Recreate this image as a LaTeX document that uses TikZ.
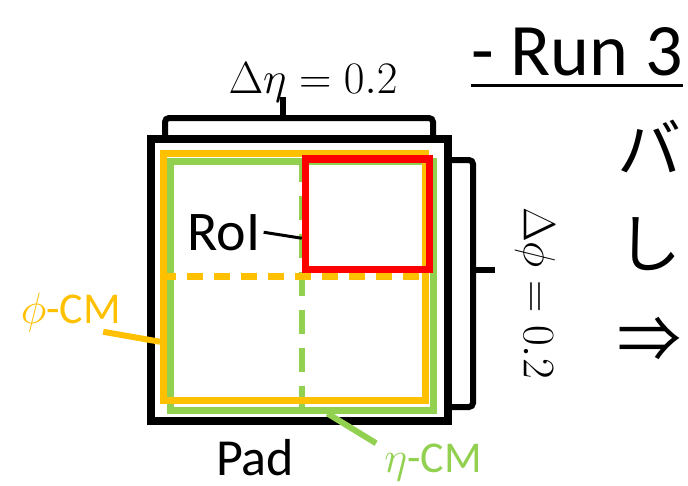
\RequirePackage{fix-cm}
\documentclass[tikz,border=0pt]{standalone}
\usepackage[no-math]{fontspec}
\setmainfont{Carlito}
\newfontfamily\jpfont{Noto Sans CJK JP}
\usetikzlibrary{calc}
\definecolor{Ink}{HTML}{000000}
\definecolor{PhiOrange}{HTML}{FFC000}
\definecolor{EtaGreen}{HTML}{92D050}
\definecolor{RoIRed}{HTML}{FF0000}

\begin{document}
\begin{tikzpicture}[x=1pt,y=-1pt,
  box/.style={draw,inner sep=0pt,line width=7pt},
  brace/.style={draw=Ink,line width=6pt,rounded corners=4pt},
  lbl/.style={inner sep=0pt,anchor=base},
  jp/.style={inner sep=0pt,anchor=west,font=\jpfont\fontsize{64}{70}\selectfont}]
\useasboundingbox (0,0) rectangle (688,485);
\clip (0,0) rectangle (688,485);
\node[box,draw=Ink,line width=8pt,minimum width=297pt,minimum height=282pt] (pad) at (299.5,280) {};
\node[box,draw=EtaGreen,minimum width=263pt,minimum height=249pt] (etabox) at (301.5,285.5) {};
\draw[EtaGreen,line width=6pt,dash pattern=on 24pt off 14pt] (etabox.north) -- (etabox.south);
\node[box,draw=PhiOrange,minimum width=261.5pt,minimum height=247.5pt] (phibox) at (294.25,276.75) {};
\draw[PhiOrange,line width=7pt,dash pattern=on 16pt off 11pt] (phibox.west) -- (phibox.east);
\node[box,draw=RoIRed,line width=7.5pt,minimum width=124pt,minimum height=110.5pt] (roibox) at (367.5,214.25) {};
\draw[brace] (165,137) -- (165,118) -- (433,118) -- (433,137);
\draw[Ink,line width=6pt] (283,118) -- (283,97);
\draw[brace] (451,160) -- (473,160) -- (473,407) -- (451,407);
\draw[Ink,line width=6pt] (473,270) -- (495,270);
\node[font=\fontsize{45}{50}\selectfont] (deta) at (313,82) {$\Delta\eta = 0.2$};
\node[font=\fontsize{45}{50}\selectfont,rotate=-90] (dphi) at (535,293) {$\Delta\phi = 0.2$};
\node[lbl,font=\fontsize{74}{80}\selectfont] (run) at (577,75) {- Run 3};
\draw[Ink,line width=3pt] ([yshift=-10pt]run.base west) -- ([yshift=-10pt]run.base east);
\node[lbl,inner sep=3pt,font=\fontsize{56}{60}\selectfont] (roi) at (224,250) {RoI};
\node[lbl,font=\fontsize{52}{60}\selectfont] (padlabel) at (255,475) {Pad};
\node[lbl,text=PhiOrange,font=\fontsize{44}{50}\selectfont] (phicm) at (71,323) {$\phi$-CM};
\node[lbl,text=EtaGreen,font=\fontsize{44}{50}\selectfont] (etacm) at (433,472) {$\eta$-CM};
\draw[Ink,line width=3pt] (roi.east) -- ([yshift=-24pt]roibox.west);
\draw[PhiOrange,line width=6pt] ([xshift=-18pt]phicm.south east) -- ([yshift=-65pt]phibox.west);
\draw[EtaGreen,line width=6pt] ([xshift=-8pt]etacm.north west) -- ([xshift=26pt]etabox.south);
\node[jp] (ba) at (617,147) {バ};
\node[jp] (shi) at (617,244) {し};
\node[jp] (imp) at (617,340) {⇒};
\end{tikzpicture}
\end{document}
